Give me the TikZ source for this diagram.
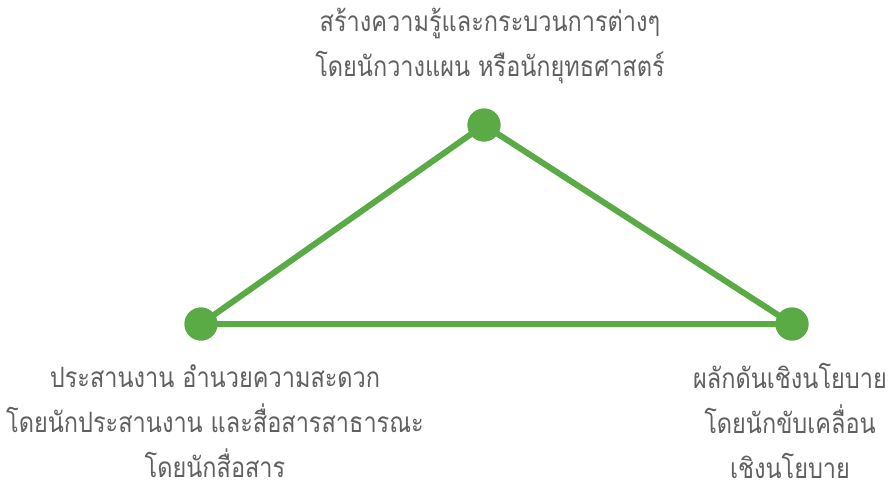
\documentclass[tikz,border=0pt]{standalone}
\usepackage{fontspec}
\newfontfamily\thaifont[Script=Thai,FakeStretch=0.84]{Loma}
\definecolor{dotgreen}{HTML}{5AAA46}
\definecolor{txtgray}{HTML}{606060}
\begin{document}
\begin{tikzpicture}[x=1pt,y=-1pt,
  dot/.style={circle,fill=dotgreen,minimum size=33pt,inner sep=0pt},
  edge/.style={draw=dotgreen,line width=6pt},
  lbl/.style={text=txtgray,font=\thaifont\fontsize{28}{45}\selectfont,align=center,inner sep=0pt}]
\useasboundingbox (0,0) rectangle (893,491);
\node[dot] (t) at (484,125) {};
\node[dot] (l) at (201,324) {};
\node[dot] (r) at (792,324) {};
\draw[edge] (t.center) -- (l.center) -- (r.center) -- cycle;
\node[dot] at (t) {};
\node[dot] at (l) {};
\node[dot] at (r) {};
\node[lbl] (tl) at (490,46) {สร้างความรู้และกระบวนการต่างๆ\\โดยนักวางแผน หรือนักยุทธศาสตร์};
\node[lbl] (ll) at (215,421) {ประสานงาน อำนวยความสะดวก\\โดยนักประสานงาน และสื่อสารสาธารณะ\\โดยนักสื่อสาร};
\node[lbl] (rl) at (790,421) {ผลักดันเชิงนโยบาย\\โดยนักขับเคลื่อน\\เชิงนโยบาย};
\end{tikzpicture}
\end{document}
